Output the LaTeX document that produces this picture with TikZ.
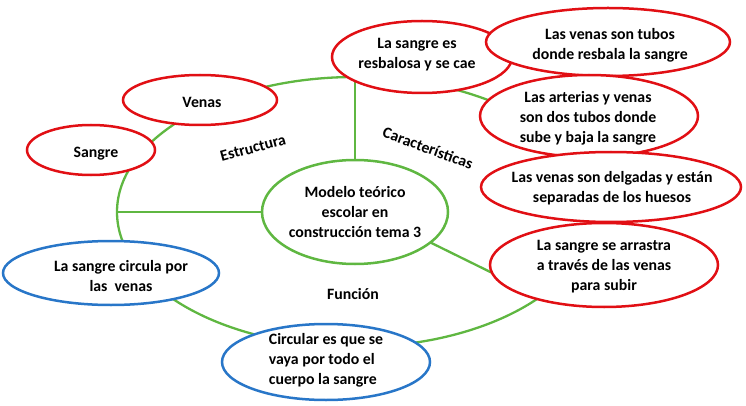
\documentclass[tikz,border=0pt]{standalone}
\usepackage{fontspec}
\setmainfont{Carlito}
\usetikzlibrary{shapes.geometric,backgrounds}
\definecolor{cred}{RGB}{225,15,20}
\definecolor{cblue}{RGB}{40,118,200}
\definecolor{cgreen}{RGB}{95,183,65}
\begin{document}
\begin{tikzpicture}[x=1pt,y=-1pt,
  every node/.style={font=\fontsize{15.8}{20}\selectfont\bfseries},
  bub/.style={ellipse,draw,line width=2.5pt,fill=white,inner sep=0pt,outer sep=0pt},
  redb/.style={bub,draw=cred},
  blueb/.style={bub,draw=cblue},
  greenb/.style={bub,draw=cgreen},
  txt/.style={align=center,inner sep=0pt},
  ltxt/.style={align=left,inner sep=0pt},
  link/.style={draw=cgreen,line width=2.3pt},
  cat/.style={inner sep=0pt}]
\useasboundingbox (0,0) rectangle (746,406);

% nodes
\node[greenb,minimum width=186pt,minimum height=104pt,
  label={[txt]center:Modelo teórico\\escolar en\\construcción tema 3}] (modelo) at (355,212) {};
\node[redb,minimum width=128pt,minimum height=50pt,
  label={[txt,xshift=5pt,yshift=-4pt]center:Sangre}] (sangre) at (91,150) {};
\node[redb,minimum width=154pt,minimum height=50pt,
  label={[txt,xshift=2pt,yshift=-2pt]center:Venas}] (venas) at (200,100) {};
\node[redb,minimum width=180pt,minimum height=72pt,
  label={[txt,xshift=-5pt,yshift=2.5pt]center:La sangre es\\resbalosa y se cae}] (resb) at (422,57) {};
\node[redb,minimum width=244pt,minimum height=68pt,
  label={[txt,xshift=2pt,yshift=-3.5pt]center:Las venas son tubos\\donde resbala la sangre}] (tubos) at (608,42) {};
\node[redb,minimum width=218pt,minimum height=82pt,
  label={[txt,xshift=-1pt,yshift=-2pt]center:Las arterias y venas\\son dos tubos donde\\sube y baja la sangre}] (arterias) at (589,116) {};
\node[redb,minimum width=260pt,minimum height=70pt,
  label={[txt,xshift=1pt,yshift=-1.5pt]center:Las venas son delgadas y están\\separadas de los huesos}] (delgadas) at (611,187) {};
\node[redb,minimum width=228pt,minimum height=84pt,
  label={[txt,yshift=-2pt]center:La sangre se arrastra\\a través de las venas\\para subir}] (arrastra) at (604,265) {};
\node[blueb,minimum width=216pt,minimum height=64pt,
  label={[txt,xshift=10pt,yshift=-3.5pt]center:La sangre circula por\\las~~venas}] (circula) at (111,273) {};
\node[blueb,minimum width=208pt,minimum height=76pt,
  label={[ltxt,yshift=2pt]center:Circular es que se\\vaya por todo el\\cuerpo la sangre}] (circular) at (326,362) {};

% category labels
\node[cat,rotate=15] (estructura) at (253,148) {Estructura};
\node[cat,rotate=-20] (caract) at (428,148) {Características};
\node[cat] (funcion) at (353,294) {Función};

% green structure behind the nodes
\coordinate (bigc) at (355,212);
\coordinate (bigleft) at (117,212);
\coordinate (bigtop) at (355,77);
\begin{scope}[on background layer]
  \draw[link] (bigc) ellipse [x radius=238pt, y radius=135pt];
  \draw[link] (modelo.west) -- (bigleft);
  \draw[link] (modelo.north) -- (bigtop);
  \draw[link] (modelo.-22) -- (arrastra.184);
\end{scope}
\end{tikzpicture}
\end{document}
